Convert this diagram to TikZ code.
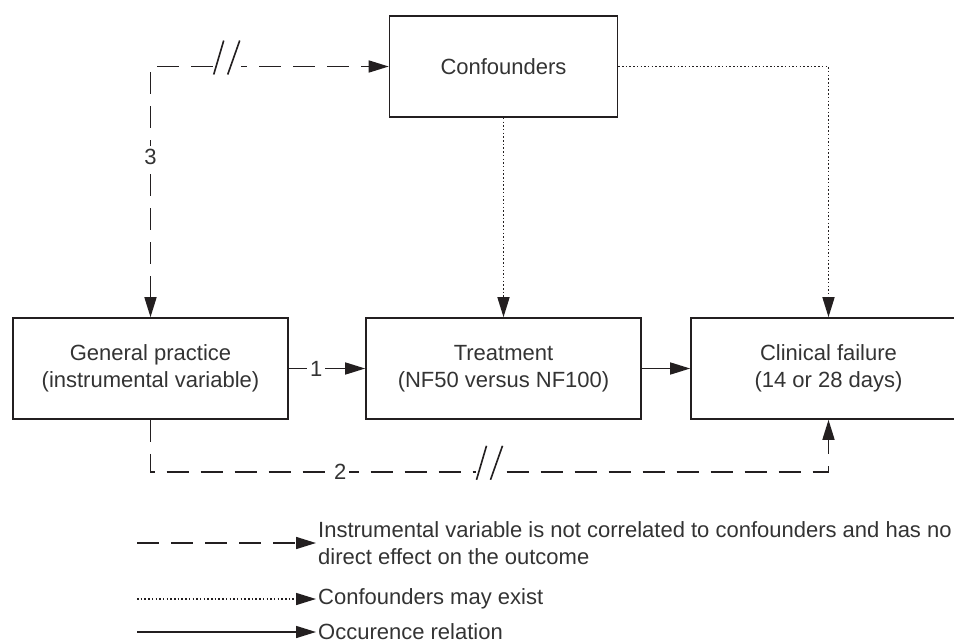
\documentclass[tikz,border=0pt]{standalone}
\usepackage{fontspec}
\setmainfont{Liberation Sans}
\usetikzlibrary{arrows.meta,positioning,calc}

\definecolor{ink}{HTML}{231F20}
\definecolor{txt}{HTML}{333333}
\newcommand{\labfont}{\fontsize{22pt}{27pt}\selectfont}

\tikzset{
  box/.style={draw=ink, line width=1.6pt, minimum width=275pt, minimum height=101pt,
    align=center, font=\labfont, text=txt, inner sep=0pt},
  occur/.style={draw=ink, line width=1.5pt, ->},
  indep/.style={draw=ink, line width=1.6pt, dash pattern=on 22pt off 12pt, ->},
  maybe/.style={draw=ink, line width=1.5pt, dash pattern=on 1.5pt off 2.2pt, ->},
  lbl/.style={fill=white, inner sep=3pt, font=\labfont, text=txt},
  legtxt/.style={anchor=west, align=left, font=\labfont, text=txt, inner sep=2pt},
  brk/.style={fill=white, inner sep=0pt, minimum width=28pt, minimum height=34pt, yshift=9pt,
    path picture={
      \draw[ink, line width=1.6pt, solid, arrows=-]
        ([xshift=1pt]path picture bounding box.south west) -- ([xshift=-3pt]path picture bounding box.north);
      \draw[ink, line width=1.6pt, solid, arrows=-]
        ([xshift=1pt]path picture bounding box.south) -- ([xshift=-1pt]path picture bounding box.north east);
    }},
  >={Triangle[length=20pt, width=12pt]}
}

\begin{document}
\begin{tikzpicture}[x=1pt, y=-1pt]
    \useasboundingbox (0,0) rectangle (954,643);

    % boxes
    \node[box] (gp) at (150.5,368.5) {General practice\\(instrumental variable)};
    \node[box] (treat) at (503.5,368.5) {Treatment\\(NF50 versus NF100)};
    \node[box] (clin) at (828.5,368.5) {Clinical failure\\(14 or 28 days)};
    \node[box, minimum width=228pt] (conf) at (503.5,66.5) {Confounders};

    % connectors
    \draw[occur] (gp) -- node[lbl, pos=0.36] {1} (treat);
    \draw[occur] (treat) -- (clin);
    \draw[maybe] (conf.south) -- (treat.north);
    \draw[maybe] (conf.east) -| (clin.north);
    \draw[indep, <->] (gp.north) |- node[lbl, pos=0.32] {3} node[brk, pos=0.66] {} (conf.west);
    \draw[indep] (gp.south) -- ++(0,52) -| node[lbl, pos=0.14] {2} node[brk, pos=0.25] {} (clin.south);

    % legend
    \coordinate (l1) at (137,543);
    \coordinate (l2) at (137,599);
    \coordinate (l3) at (137,632);
    \node[legtxt] (t1) at (316,543) {Instrumental variable is not correlated to confounders and has no\\direct effect on the outcome};
    \node[legtxt] (t2) at (316,599) {Confounders may exist};
    \node[legtxt] (t3) at (316,632) {Occurence relation};
    \draw[indep] (l1) -- (t1.west);
    \draw[maybe] (l2) -- (t2.west);
    \draw[occur] (l3) -- (t3.west);
\end{tikzpicture}
\end{document}
